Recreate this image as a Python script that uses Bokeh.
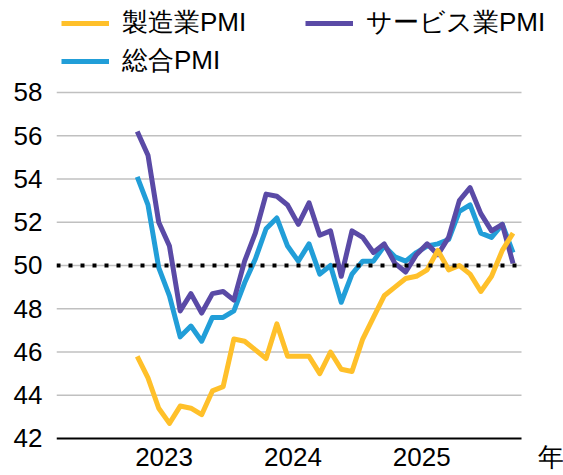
from bokeh.plotting import figure
from bokeh.models import Range1d, FixedTicker, Legend, LegendItem
from bokeh.embed import file_html
from bokeh.resources import INLINE

months = [
    "2023-04", "2023-05", "2023-06", "2023-07", "2023-08", "2023-09",
    "2023-10", "2023-11", "2023-12",
    "2024-01", "2024-02", "2024-03", "2024-04", "2024-05", "2024-06",
    "2024-07", "2024-08", "2024-09", "2024-10", "2024-11", "2024-12",
    "2025-01", "2025-02", "2025-03", "2025-04", "2025-05", "2025-06",
    "2025-07", "2025-08", "2025-09", "2025-10", "2025-11", "2025-12",
    "2026-01", "2026-02", "2026-03",
]

manufacturing = [
    45.8, 44.8, 43.4, 42.7, 43.5, 43.4, 43.1, 44.2, 44.4,
    46.6, 46.5, 46.1, 45.7, 47.3, 45.8, 45.8, 45.8, 45.0, 46.0, 45.2, 45.1,
    46.6, 47.6, 48.6, 49.0, 49.4, 49.5, 49.8, 50.7, 49.8, 50.0, 49.6, 48.8,
    49.5, 50.7, 51.5,
]

services = [
    56.2, 55.1, 52.0, 50.9, 47.9, 48.7, 47.8, 48.7, 48.8,
    48.4, 50.2, 51.5, 53.3, 53.2, 52.8, 51.9, 52.9, 51.4, 51.6, 49.5, 51.6,
    51.3, 50.6, 51.0, 50.1, 49.7, 50.5, 51.0, 50.5, 51.3, 53.0, 53.6, 52.4,
    51.6, 51.9, 50.1,
]

composite = [
    54.1, 52.8, 49.9, 48.6, 46.7, 47.2, 46.5, 47.6, 47.6,
    47.9, 49.2, 50.3, 51.7, 52.2, 50.9, 50.2, 51.0, 49.6, 50.0, 48.3, 49.6,
    50.2, 50.2, 50.9, 50.4, 50.2, 50.6, 50.9, 51.0, 51.2, 52.5, 52.8, 51.5,
    51.3, 51.9, 50.6,
]

year_labels = ["2023", "2024", "2025"]
unit_label = "年"
y_ticks = [42, 44, 46, 48, 50, 52, 54, 56, 58]
threshold = 50

# ---- layout / style constants ----
X_LEFT, X_RIGHT = -4.52, 42.70      # visible month-index range
X_PLOT_END = 38.79                  # where grid / axis line stop
X_UNIT_POS = 41.49                  # position of the unit label "年"
Y_START, Y_END = 41.9075, 62.254

C_MFG = "#FFC02A"
C_SRV = "#5A4AA6"
C_CMP = "#219ED8"
C_GRID = "#C0C0C0"
FONT = "Liberation Sans"

# month index (Jan 2023 = 0)
x = [(int(m[:4]) - 2023) * 12 + int(m[5:]) - 1 for m in months]
x_ticks = [(int(yl) - 2023) * 12 + 5.5 for yl in year_labels]

p = figure(
    width=563, height=475,
    output_backend="svg", toolbar_location=None,
    x_range=Range1d(X_LEFT, X_RIGHT), y_range=Range1d(Y_START, Y_END),
    min_border_left=56, min_border_right=0,
    min_border_top=0, min_border_bottom=35,
)
p.outline_line_color = None
p.background_fill_color = "white"
p.border_fill_color = "white"
p.xgrid.visible = False
p.ygrid.visible = False

# horizontal grid lines (stop at the end of the plot area, like the original)
grid_y = y_ticks[1:]
p.segment(x0=[X_LEFT] * len(grid_y), x1=[X_PLOT_END] * len(grid_y),
          y0=grid_y, y1=grid_y, line_color=C_GRID, line_width=1.5)

p.yaxis.ticker = FixedTicker(ticks=y_ticks)
p.yaxis.axis_line_color = None
p.yaxis.major_tick_line_color = None
p.yaxis.minor_tick_line_color = None
p.yaxis.major_tick_out = 0
p.yaxis.minor_tick_out = 0
p.yaxis.major_label_text_font = FONT
p.yaxis.major_label_text_font_size = "26px"
p.yaxis.major_label_text_color = "black"
p.yaxis.major_label_standoff = 14

ticks_all = x_ticks + [X_UNIT_POS]
labels_all = year_labels + [unit_label]
p.xaxis.ticker = FixedTicker(ticks=ticks_all)
p.xaxis.major_label_overrides = {t: lab for t, lab in zip(ticks_all, labels_all)}
p.xaxis.axis_line_color = None
p.xaxis.major_tick_line_color = None
p.xaxis.minor_tick_line_color = None
p.xaxis.major_tick_out = 0
p.xaxis.minor_tick_out = 0
p.xaxis.major_label_text_font = FONT
p.xaxis.major_label_text_font_size = "26px"
p.xaxis.major_label_text_color = "black"
p.xaxis.major_label_standoff = 1

# baseline (x axis line) at 42, ending where the plot area ends
p.segment(x0=[X_LEFT], x1=[X_PLOT_END], y0=[y_ticks[0]], y1=[y_ticks[0]],
          line_color="black", line_width=2)

r_c = p.line(x, composite, line_color=C_CMP, line_width=5, line_join="round")
r_s = p.line(x, services, line_color=C_SRV, line_width=5, line_join="round")
r_m = p.line(x, manufacturing, line_color=C_MFG, line_width=5, line_join="round")

# 50 threshold, dotted
p.segment(x0=[X_LEFT], x1=[X_PLOT_END], y0=[threshold], y1=[threshold],
          line_color="black", line_width=4, line_dash="4 8")

legend = Legend(
    items=[
        LegendItem(label="製造業PMI", renderers=[r_m]),
        LegendItem(label="サービス業PMI", renderers=[r_s]),
        LegendItem(label="総合PMI", renderers=[r_c]),
    ],
    location="top_left", orientation="horizontal", ncols=2,
    label_text_font=FONT, label_text_font_size="26px",
    label_text_color="black",
    glyph_width=48, glyph_height=28, label_height=28, label_width=180,
    label_standoff=13, spacing=3, padding=12, margin=5,
    border_line_color=None, background_fill_alpha=0,
)
p.add_layout(legend)

open("out.html", "w").write(file_html(p, INLINE))
